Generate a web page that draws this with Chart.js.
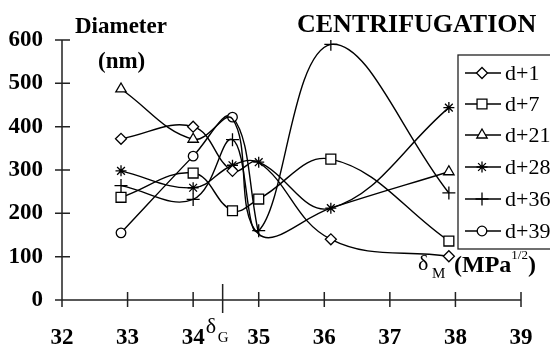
<!DOCTYPE html>
<html>
<head>
<meta charset="utf-8">
<script src="https://cdn.jsdelivr.net/npm/chart.js@4"></script>
<style>
  html, body { margin: 0; padding: 0; background: #fff; }
  #wrap { width: 550px; height: 347px; position: relative; }
</style>
</head>
<body>
<div id="wrap"><canvas id="c" width="550" height="347"></canvas></div>
<script>
// ---- data ----
const xValues = [32.9, 34.0, 34.6, 35.0, 36.1, 37.9];
const seriesNames = ["d+1", "d+7", "d+21", "d+28", "d+36", "d+39"];
const d1  = [372, 400, 298, 318, 140, 101];
const d7  = [237, 293, 206, 233, 325, 136];
const d21 = [487, 371, 418, 152, 212, 296];
const d28 = [298, 259, 311, 318, 212, 444];
const d36 = [264, 232, 370, 160, 590, 247];
const d39 = [155, 332, 422, 152, null, null];
const xTicks = [32, 33, 34, 35, 36, 37, 38, 39];
const yTicks = [0, 100, 200, 300, 400, 500, 600];
const deltaG = 34.45;

const SERIF = '"Liberation Serif", "DejaVu Serif", serif';
const styles = [
  { pointStyle: 'rectRot', r: 5.5 },
  { pointStyle: 'rect', r: 7 },
  { pointStyle: 'triangle', r: 6 },
  { pointStyle: 'star', r: 5.5 },
  { pointStyle: 'cross', r: 6.5 },
  { pointStyle: 'circle', r: 4.8 }
];
// markers hidden behind others in the reference
const hidden = { 0: [3], 2: [2, 3, 4], 5: [3] };
const allSeries = [d1, d7, d21, d28, d36, d39];

const datasets = allSeries.map((vals, i) => ({
  label: seriesNames[i],
  data: xValues.map((x, k) => ({ x: x, y: vals[k] })),
  showLine: true,
  borderColor: '#000',
  borderWidth: 1.4,
  backgroundColor: '#fff',
  pointBackgroundColor: '#fff',
  pointBorderColor: '#000',
  pointBorderWidth: 1.3,
  pointStyle: styles[i].pointStyle,
  pointRadius: ctx => (hidden[i] && hidden[i].includes(ctx.dataIndex)) ? 0 : styles[i].r,
  pointHoverRadius: styles[i].r,
  tension: 0.4,
  spanGaps: false
}));

const decor = {
  id: 'decor',
  beforeDatasetsDraw(chart) {
    const ctx = chart.ctx;
    const xs = chart.scales.x, ys = chart.scales.y;
    const x0 = xs.getPixelForValue(32), x1 = xs.getPixelForValue(39);
    const yb = ys.getPixelForValue(0), yt = ys.getPixelForValue(600);
    ctx.save();
    ctx.strokeStyle = '#222';
    ctx.lineWidth = 1.5;
    ctx.beginPath();
    ctx.moveTo(x0, yt); ctx.lineTo(x0, yb + 7);
    ctx.moveTo(x0 - 7, yb); ctx.lineTo(x1, yb);
    yTicks.forEach(v => {
      const y = ys.getPixelForValue(v);
      ctx.moveTo(x0 - 7, y); ctx.lineTo(x0 + 8, y);
    });
    xTicks.forEach(v => {
      if (v === 32) return;
      const x = xs.getPixelForValue(v);
      ctx.moveTo(x, yb - 8); ctx.lineTo(x, yb + 7);
    });
    const xg = xs.getPixelForValue(deltaG);
    ctx.moveTo(xg, yb - 16); ctx.lineTo(xg, yb + 13);
    ctx.stroke();
    ctx.restore();
  },
  afterDraw(chart) {
    const ctx = chart.ctx;
    const xs = chart.scales.x;
    ctx.save();
    ctx.fillStyle = '#000';
    ctx.textBaseline = 'alphabetic';
    ctx.textAlign = 'left';
    ctx.font = 'bold 23px ' + SERIF;
    ctx.fillText('Diameter', 75, 33);
    ctx.fillText('(nm)', 98, 68);
    ctx.font = 'bold 26px ' + SERIF;
    ctx.fillText('CENTRIFUGATION', 297, 32);
    // delta G
    const xg = xs.getPixelForValue(deltaG);
    ctx.font = '22px ' + SERIF;
    ctx.fillText('\u03B4', xg - 17, 333);
    ctx.font = '15px ' + SERIF;
    ctx.fillText('G', xg - 5, 342);
    // delta M (MPa^1/2)
    ctx.font = '22px ' + SERIF;
    ctx.fillText('\u03B4', 418, 270);
    ctx.font = '15px ' + SERIF;
    ctx.fillText('M', 432, 278);
    ctx.font = 'bold 24px ' + SERIF;
    ctx.fillText('(MPa', 454, 272);
    const w = ctx.measureText('(MPa').width;
    ctx.font = '13px ' + SERIF;
    ctx.fillText('1/2', 454 + w, 259);
    const w2 = ctx.measureText('1/2').width;
    ctx.font = 'bold 24px ' + SERIF;
    ctx.fillText(')', 454 + w + w2, 272);

    // legend box
    ctx.fillStyle = '#fff';
    ctx.fillRect(458, 55, 100, 194);
    ctx.strokeStyle = '#222';
    ctx.lineWidth = 1.3;
    ctx.strokeRect(458, 55, 100, 194);
    const rows = [73, 104, 135, 167, 199, 231];
    chart.data.datasets.forEach((ds, i) => {
      const y = rows[i];
      ctx.strokeStyle = '#000';
      ctx.lineWidth = 1.4;
      ctx.beginPath();
      ctx.moveTo(465, y); ctx.lineTo(501, y);
      ctx.stroke();
      ctx.fillStyle = '#fff';
      ctx.strokeStyle = '#000';
      ctx.lineWidth = 1.3;
      Chart.helpers.drawPoint(ctx, { pointStyle: styles[i].pointStyle, radius: styles[i].r, rotation: 0, borderWidth: 1.3 }, 482, y);
      ctx.fillStyle = '#000';
      ctx.font = '22px ' + SERIF;
      ctx.textBaseline = 'middle';
      ctx.fillText(ds.label, 505, y + 1);
    });
    ctx.restore();
  }
};

new Chart(document.getElementById('c'), {
  type: 'scatter',
  data: { datasets },
  options: {
    responsive: false,
    animation: false,
    events: [],
    layout: { padding: { top: 40, right: 29, left: 0, bottom: 0 } },
    plugins: { legend: { display: false }, tooltip: { enabled: false } },
    scales: {
      x: {
        type: 'linear', min: 32, max: 39,
        afterBuildTicks: s => { s.ticks = xTicks.map(v => ({ value: v })); },
        afterFit: s => { s.height = 47; },
        grid: { display: false }, border: { display: false },
        ticks: { color: '#000', padding: 16, font: { family: SERIF, size: 23, weight: 'bold' }, maxRotation: 0 }
      },
      y: {
        type: 'linear', min: 0, max: 600,
        afterBuildTicks: s => { s.ticks = yTicks.map(v => ({ value: v })); },
        afterFit: s => { s.width = 62; },
        grid: { display: false }, border: { display: false },
        ticks: { color: '#000', padding: 11, font: { family: SERIF, size: 23, weight: 'bold' } }
      }
    }
  },
  plugins: [decor]
});
</script>
</body>
</html>
